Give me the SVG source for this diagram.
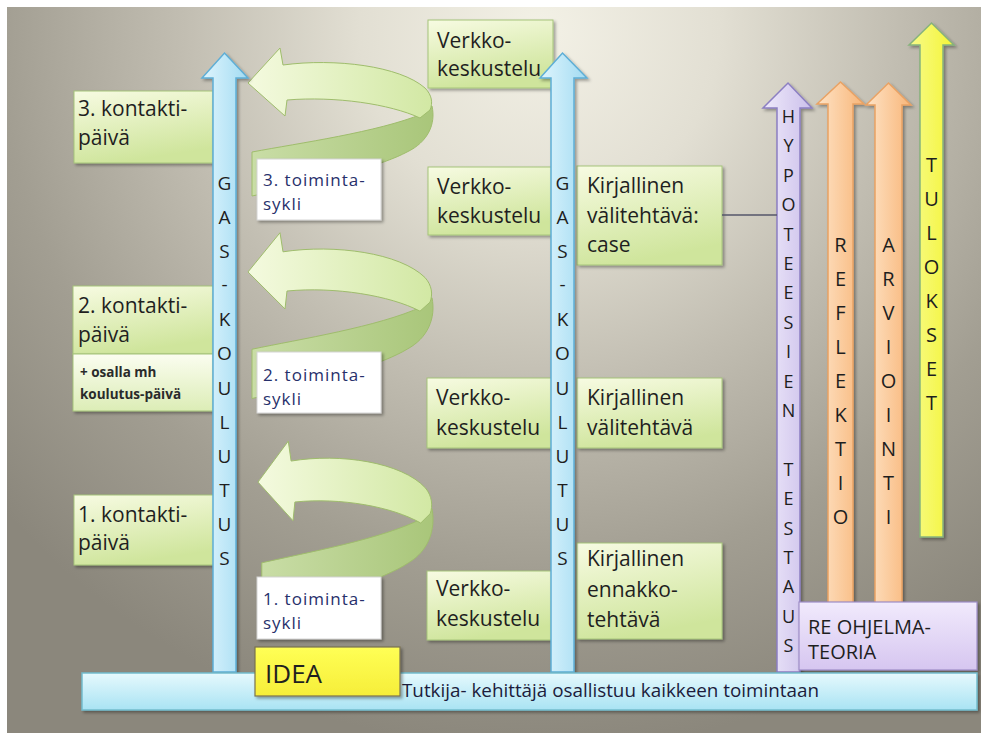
<svg xmlns="http://www.w3.org/2000/svg" xmlns:xlink="http://www.w3.org/1999/xlink" width="981" height="740" viewBox="0 0 981 740">
<defs>
<radialGradient id="bg" gradientUnits="userSpaceOnUse" cx="540" cy="30" r="720">
<stop offset="0" stop-color="#f3f1e6"/>
<stop offset="0.25" stop-color="#e2dfd3"/>
<stop offset="0.5" stop-color="#c1bdb1"/>
<stop offset="0.75" stop-color="#a29e92"/>
<stop offset="1" stop-color="#8b877c"/>
</radialGradient>
<linearGradient id="gGreen" x1="0" y1="0" x2="0.3" y2="1">
<stop offset="0" stop-color="#f7fbe2"/><stop offset="1" stop-color="#cfe59c"/>
</linearGradient>
<linearGradient id="gSub" x1="0" y1="0" x2="0" y2="1">
<stop offset="0" stop-color="#fbfdf0"/><stop offset="1" stop-color="#dcedb6"/>
</linearGradient>
<linearGradient id="gBlue" x1="0" y1="0" x2="1" y2="0">
<stop offset="0" stop-color="#dff5fd"/><stop offset="1" stop-color="#a2dbf2"/>
</linearGradient>
<linearGradient id="gBar" x1="0" y1="0" x2="0" y2="1">
<stop offset="0" stop-color="#e6f9fd"/><stop offset="1" stop-color="#a9e3f3"/>
</linearGradient>
<linearGradient id="gLav" x1="0" y1="0" x2="1" y2="0">
<stop offset="0" stop-color="#efeafb"/><stop offset="1" stop-color="#cbbfea"/>
</linearGradient>
<linearGradient id="gLavBox" x1="0" y1="0" x2="0" y2="1">
<stop offset="0" stop-color="#f1eafc"/><stop offset="1" stop-color="#d6c6f0"/>
</linearGradient>
<linearGradient id="gOr" x1="0" y1="0" x2="1" y2="0">
<stop offset="0" stop-color="#fee3c6"/><stop offset="1" stop-color="#f8b679"/>
</linearGradient>
<linearGradient id="gYel" x1="0" y1="0" x2="1" y2="0">
<stop offset="0" stop-color="#f7fb8a"/><stop offset="1" stop-color="#f4f436"/>
</linearGradient>
<linearGradient id="gIdea" x1="0" y1="0" x2="0" y2="1">
<stop offset="0" stop-color="#ffff55"/><stop offset="1" stop-color="#f6ee3a"/>
</linearGradient>
<linearGradient id="gFront" x1="0" y1="0" x2="1" y2="0">
<stop offset="0" stop-color="#f4fadf"/><stop offset="1" stop-color="#d2e8a4"/>
</linearGradient>
<linearGradient id="gBack" x1="0" y1="0" x2="1" y2="0">
<stop offset="0" stop-color="#c9dda6"/><stop offset="1" stop-color="#a9c67a"/>
</linearGradient>
<filter id="sh" x="-10%" y="-10%" width="130%" height="130%">
<feDropShadow dx="2" dy="2" stdDeviation="1.5" flood-color="#000" flood-opacity="0.35"/>
</filter>
<g id="curl">
<path class="cback" d="M252,152 C300,143 378,132 422,114 L432,106 C436,124 428,142 407,152 C385,164 330,180 252,196 Z"/>
<path class="cfront" d="M248,83 L280,48 L283,65 C335,58 400,66 425,88 C432,95 433,103 430,110 L420,118 C390,104 335,96 287,100 L285,116 Z"/>
</g>
<style>
.t{font-family:"Open Sans","Liberation Sans",sans-serif;fill:#1f1f1f}
.lbl{font-size:21px}
.cyc{font-size:17px;letter-spacing:1px;fill:#27306b}
.small{font-size:13.5px;font-weight:bold;fill:#2a2a2a}
.vl{font-family:"Open Sans","Liberation Sans",sans-serif;font-size:19px;text-anchor:middle;fill:#1e1e1e}
.vl2{font-family:"Open Sans","Liberation Sans",sans-serif;font-size:20px;text-anchor:middle;fill:#1e1e1e}
.gbox{fill:url(#gGreen);stroke:#a6c47a;stroke-width:1;filter:url(#sh)}
.sbox{fill:url(#gSub);stroke:#a6c47a;stroke-width:1;filter:url(#sh)}
.wbox{fill:#ffffff;stroke:#d4d4d4;stroke-width:1;filter:url(#sh)}
.cback{fill:url(#gBack);stroke:#9fbd6c;stroke-width:1;vector-effect:non-scaling-stroke}
.cfront{fill:url(#gFront);stroke:#9fbd6c;stroke-width:1;vector-effect:non-scaling-stroke}
.blue{fill:url(#gBlue);stroke:#5eaed6;stroke-width:1.5;filter:url(#sh)}
.conn{stroke:#55566a;stroke-width:1.5;fill:none}
</style>
</defs>

<rect x="0" y="0" width="981" height="740" fill="#ffffff"/>
<rect x="7" y="7" width="974" height="726" fill="url(#bg)"/>

<g id="cycle-arrows">
<use xlink:href="#curl" href="#curl"/>
<use xlink:href="#curl" href="#curl" transform="matrix(1,0,0,1.12,0,179)"/>
<use xlink:href="#curl" href="#curl" transform="matrix(0.946,0,0,1.17,23.4,385)"/>
</g>

<g id="kontakti3">
<rect class="gbox" x="74" y="91" width="139" height="72"/>
<text class="t lbl"><tspan x="78" y="116">3. kontakti-</tspan><tspan x="78" y="145">päivä</tspan></text>
</g>
<g id="kontakti2">
<rect class="gbox" x="73" y="286" width="140" height="68"/>
<text class="t lbl"><tspan x="78" y="313">2. kontakti-</tspan><tspan x="78" y="342">päivä</tspan></text>
</g>
<g id="koulutuspaiva">
<rect class="sbox" x="73" y="354" width="140" height="57"/>
<text class="t small"><tspan x="80" y="377">+ osalla mh</tspan><tspan x="80" y="399">koulutus-päivä</tspan></text>
</g>
<g id="kontakti1">
<rect class="gbox" x="74" y="495" width="141" height="70"/>
<text class="t lbl"><tspan x="78" y="522">1. kontakti-</tspan><tspan x="78" y="550">päivä</tspan></text>
</g>

<g id="toiminta3">
<rect class="wbox" x="257" y="159" width="124" height="61"/>
<text class="t cyc"><tspan x="263" y="186">3. toiminta-</tspan><tspan x="263" y="210">sykli</tspan></text>
</g>
<g id="toiminta2">
<rect class="wbox" x="257" y="352" width="124" height="61"/>
<text class="t cyc"><tspan x="263" y="381">2. toiminta-</tspan><tspan x="263" y="405">sykli</tspan></text>
</g>
<g id="toiminta1">
<rect class="wbox" x="257" y="577" width="124" height="62"/>
<text class="t cyc"><tspan x="263" y="605">1. toiminta-</tspan><tspan x="263" y="629">sykli</tspan></text>
</g>

<g id="gas-left">
<path class="blue" d="M213,672 L213,78 L202,78 L224.5,53 L248,78 L236,78 L236,672 Z"/>
<text class="vl"><tspan x="224.5" y="190">G</tspan><tspan x="224.5" y="224">A</tspan><tspan x="224.5" y="258">S</tspan><tspan x="224.5" y="291">-</tspan><tspan x="224.5" y="326">K</tspan><tspan x="224.5" y="360">O</tspan><tspan x="224.5" y="395">U</tspan><tspan x="224.5" y="429">L</tspan><tspan x="224.5" y="463">U</tspan><tspan x="224.5" y="497">T</tspan><tspan x="224.5" y="531">U</tspan><tspan x="224.5" y="565">S</tspan></text>
</g>

<g id="verkko1">
<rect class="gbox" x="428" y="20" width="125" height="68"/>
<text class="t lbl"><tspan x="437" y="48">Verkko-</tspan><tspan x="437" y="76">keskustelu</tspan></text>
</g>
<g id="verkko2">
<rect class="gbox" x="428" y="167" width="125" height="68"/>
<text class="t lbl"><tspan x="437" y="194">Verkko-</tspan><tspan x="437" y="223">keskustelu</tspan></text>
</g>
<g id="verkko3">
<rect class="gbox" x="427" y="378" width="125" height="70"/>
<text class="t lbl"><tspan x="436" y="405">Verkko-</tspan><tspan x="436" y="435">keskustelu</tspan></text>
</g>
<g id="verkko4">
<rect class="gbox" x="427" y="571" width="125" height="69"/>
<text class="t lbl"><tspan x="436" y="596">Verkko-</tspan><tspan x="436" y="626">keskustelu</tspan></text>
</g>
<g id="kirjallinen-case">
<rect class="gbox" x="577" y="166" width="145" height="99"/>
<text class="t lbl"><tspan x="587" y="193">Kirjallinen</tspan><tspan x="587" y="223">välitehtävä:</tspan><tspan x="587" y="252">case</tspan></text>
</g>
<g id="kirjallinen-vali">
<rect class="gbox" x="577" y="378" width="145" height="70"/>
<text class="t lbl"><tspan x="587" y="405">Kirjallinen</tspan><tspan x="587" y="435">välitehtävä</tspan></text>
</g>
<g id="kirjallinen-ennakko">
<rect class="gbox" x="577" y="543" width="145" height="96"/>
<text class="t lbl"><tspan x="587" y="566">Kirjallinen</tspan><tspan x="587" y="597">ennakko-</tspan><tspan x="587" y="627">tehtävä</tspan></text>
</g>

<g id="gas-middle">
<path class="blue" d="M551,672 L551,78 L540,78 L562.5,53 L587,78 L574,78 L574,672 Z"/>
<text class="vl"><tspan x="562.5" y="190">G</tspan><tspan x="562.5" y="224">A</tspan><tspan x="562.5" y="258">S</tspan><tspan x="562.5" y="291">-</tspan><tspan x="562.5" y="326">K</tspan><tspan x="562.5" y="360">O</tspan><tspan x="562.5" y="395">U</tspan><tspan x="562.5" y="429">L</tspan><tspan x="562.5" y="463">U</tspan><tspan x="562.5" y="497">T</tspan><tspan x="562.5" y="531">U</tspan><tspan x="562.5" y="565">S</tspan></text>
</g>

<g id="hypoteesien-testaus">
<path d="M777,672 L777,108 L763,108 L788,83 L812,108 L800,108 L800,672 Z" fill="url(#gLav)" stroke="#8c7fc2" stroke-width="1.5" filter="url(#sh)"/>
<text class="vl" style="font-size:18px"><tspan x="788.5" y="123">H</tspan><tspan x="788.5" y="152">Y</tspan><tspan x="788.5" y="182">P</tspan><tspan x="788.5" y="211">O</tspan><tspan x="788.5" y="241">T</tspan><tspan x="788.5" y="270">E</tspan><tspan x="788.5" y="299">E</tspan><tspan x="788.5" y="329">S</tspan><tspan x="788.5" y="358">I</tspan><tspan x="788.5" y="388">E</tspan><tspan x="788.5" y="417">N</tspan><tspan x="788.5" y="476">T</tspan><tspan x="788.5" y="505">E</tspan><tspan x="788.5" y="535">S</tspan><tspan x="788.5" y="564">T</tspan><tspan x="788.5" y="593">A</tspan><tspan x="788.5" y="623">U</tspan><tspan x="788.5" y="652">S</tspan></text>
</g>

<g id="reflektio">
<path d="M828,605 L828,104 L817,104 L840.5,82 L864,104 L853,104 L853,605 Z" fill="url(#gOr)" stroke="#e9a264" stroke-width="1.5" filter="url(#sh)"/>
<text class="vl2"><tspan x="840.5" y="252">R</tspan><tspan x="840.5" y="286">E</tspan><tspan x="840.5" y="320">F</tspan><tspan x="840.5" y="354">L</tspan><tspan x="840.5" y="388">E</tspan><tspan x="840.5" y="422">K</tspan><tspan x="840.5" y="456">T</tspan><tspan x="840.5" y="490">I</tspan><tspan x="840.5" y="524">O</tspan></text>
</g>
<g id="arviointi">
<path d="M875,605 L875,105 L866,105 L888.5,83 L911,105 L902,105 L902,605 Z" fill="url(#gOr)" stroke="#e9a264" stroke-width="1.5" filter="url(#sh)"/>
<text class="vl2"><tspan x="888.5" y="252">A</tspan><tspan x="888.5" y="286">R</tspan><tspan x="888.5" y="320">V</tspan><tspan x="888.5" y="354">I</tspan><tspan x="888.5" y="388">O</tspan><tspan x="888.5" y="422">I</tspan><tspan x="888.5" y="456">N</tspan><tspan x="888.5" y="490">T</tspan><tspan x="888.5" y="524">I</tspan></text>
</g>
<g id="tulokset">
<path d="M920,537 L920,45 L909,45 L931.5,23 L954,45 L943,45 L943,537 Z" fill="url(#gYel)" stroke="#86b27c" stroke-width="1.5" filter="url(#sh)"/>
<text class="vl2"><tspan x="931.5" y="172">T</tspan><tspan x="931.5" y="206">U</tspan><tspan x="931.5" y="240">L</tspan><tspan x="931.5" y="274">O</tspan><tspan x="931.5" y="308">K</tspan><tspan x="931.5" y="342">S</tspan><tspan x="931.5" y="376">E</tspan><tspan x="931.5" y="410">T</tspan></text>
</g>

<g id="connectors">
<line class="conn" x1="722" y1="215" x2="777" y2="215"/>
</g>

<g id="re-ohjelmateoria">
<rect x="799" y="602" width="178" height="68" fill="url(#gLavBox)" stroke="#9d8cc6" stroke-width="1.2" filter="url(#sh)"/>
<text class="t" style="font-size:20px"><tspan x="808" y="634">RE OHJELMA-</tspan><tspan x="808" y="659">TEORIA</tspan></text>
</g>

<g id="tutkija-bar">
<rect x="82" y="673" width="895" height="37" fill="url(#gBar)" stroke="#73bccd" stroke-width="1.5" filter="url(#sh)"/>
<text class="t" style="font-size:19px;fill:#1c1c3c" x="402" y="697" textLength="417" lengthAdjust="spacingAndGlyphs">Tutkija- kehittäjä osallistuu kaikkeen toimintaan</text>
</g>

<g id="idea">
<rect x="255" y="647" width="145" height="49" fill="url(#gIdea)" stroke="#7a7250" stroke-width="1.2" filter="url(#sh)"/>
<text class="t" style="font-size:26px" x="265" y="683">IDEA</text>
</g>
</svg>
